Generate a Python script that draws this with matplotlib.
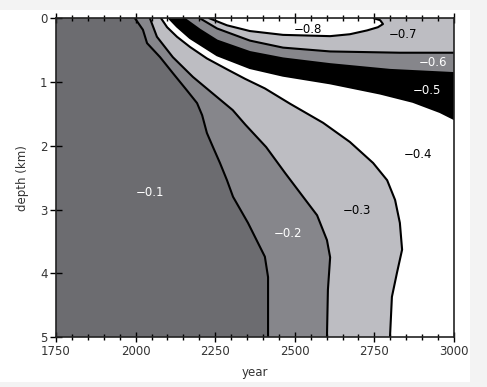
import numpy as np
import matplotlib.pyplot as plt
from matplotlib.patches import Rectangle

# contour boundaries: (year, depth in km)
# -0.1 / -0.2
b1_year = [1998, 2023, 2036, 2077, 2117, 2161, 2193, 2209, 2224, 2243, 2265, 2287, 2306, 2353, 2406, 2416, 2416]
b1_depth = [0.0, 0.18, 0.39, 0.61, 0.86, 1.13, 1.33, 1.52, 1.80, 2.02, 2.27, 2.54, 2.80, 3.21, 3.74, 4.06, 5.0]
# -0.2 / -0.3
b2_year = [2045, 2067, 2117, 2180, 2240, 2305, 2345, 2410, 2470, 2526, 2570, 2601, 2611, 2604, 2601]
b2_depth = [0.0, 0.29, 0.61, 0.92, 1.17, 1.44, 1.67, 2.02, 2.43, 2.80, 3.09, 3.48, 3.75, 4.26, 5.0]
# -0.3 / -0.4
b3_year = [2080, 2099, 2130, 2171, 2224, 2287, 2344, 2406, 2485, 2589, 2673, 2746, 2790, 2815, 2830, 2837, 2821, 2805, 2799]
b3_depth = [0.0, 0.14, 0.29, 0.45, 0.63, 0.80, 0.95, 1.10, 1.34, 1.64, 1.94, 2.27, 2.54, 2.85, 3.21, 3.63, 3.99, 4.37, 5.0]
# -0.4 / -0.5
b4_year = [2105, 2130, 2171, 2256, 2359, 2463, 2611, 2768, 2871, 2956, 3000]
b4_depth = [0.0, 0.13, 0.31, 0.58, 0.78, 0.90, 1.02, 1.18, 1.31, 1.47, 1.58]
# -0.5 / -0.6
b5_year = [2152, 2202, 2256, 2359, 2463, 2611, 2799, 3000]
b5_depth = [0.0, 0.18, 0.35, 0.53, 0.63, 0.72, 0.81, 0.86]
# -0.6 / -0.7
b6_year = [2202, 2256, 2359, 2463, 2611, 2830, 3000]
b6_depth = [0.0, 0.16, 0.35, 0.46, 0.52, 0.54, 0.54]
# -0.7 / -0.8 (closed against the surface)
b7_year = [2232, 2287, 2359, 2463, 2611, 2673, 2727, 2761, 2777, 2768, 2749]
b7_depth = [0.0, 0.11, 0.20, 0.26, 0.28, 0.25, 0.19, 0.14, 0.09, 0.03, 0.0]

labels = ['\u22120.1', '\u22120.2', '\u22120.3', '\u22120.4', '\u22120.5', '\u22120.6', '\u22120.7', '\u22120.8']
label_year = [2045, 2479, 2695, 2887, 2915, 2934, 2840, 2541]
label_depth = [2.73, 3.37, 3.01, 2.14, 1.13, 0.70, 0.26, 0.17]
label_color = ['white', 'white', 'black', 'black', 'white', 'white', 'black', 'black']

dark = '#6c6c70'
mid = '#86868b'
light = '#bdbdc2'

plt.rcParams['font.family'] = 'DejaVu Sans'
fig = plt.figure(figsize=(4.87, 3.87), dpi=100, facecolor='#f3f3f3')
fig.patches.append(Rectangle((0, 5 / 387), 470 / 487, 372 / 387, transform=fig.transFigure,
                             facecolor='white', edgecolor='none', zorder=-5))
ax = fig.add_axes([56 / 487, 1 - 337 / 387, 398 / 487, 318.7 / 387])
ax.set_facecolor(dark)
x0, x1 = 1750, 3000
y0, y1 = 0, 5

# layered fills, each covering everything to the "more negative" side
ax.fill(b1_year + [x1, x1], b1_depth + [y1, y0], color=mid, lw=0)
ax.fill(b2_year + [x1, x1], b2_depth + [y1, y0], color=light, lw=0)
ax.fill(b3_year + [x1, x1], b3_depth + [y1, y0], color='white', lw=0)
ax.fill(b4_year + [x1], b4_depth + [y0], color='black', lw=0)
ax.fill(b5_year + [x1], b5_depth + [y0], color=mid, lw=0)
ax.fill(b6_year + [x1], b6_depth + [y0], color=light, lw=0)
ax.fill(b7_year, b7_depth, color='white', lw=0)

for xs, ys in [(b1_year, b1_depth), (b2_year, b2_depth), (b3_year, b3_depth),
               (b4_year, b4_depth), (b5_year, b5_depth), (b6_year, b6_depth),
               (b7_year, b7_depth)]:
    ax.plot(xs, ys, color='black', lw=1.5, solid_joinstyle='round')

for t, xx, yy, c in zip(labels, label_year, label_depth, label_color):
    ax.text(xx, yy, t, color=c, fontsize=8.5, ha='center', va='center')

ax.set_xlim(x0, x1)
ax.set_ylim(y1, y0)
ax.set_xticks(np.arange(1750, 3001, 250))
ax.set_xticks(np.arange(1750, 3001, 50), minor=True)
ax.set_yticks(np.arange(0, 6, 1))
ax.tick_params(axis='x', which='major', direction='inout', length=7, width=1, top=True,
               labelsize=8.5, labelcolor='#333333', pad=2)
ax.tick_params(axis='x', which='minor', direction='inout', length=4, width=1, top=True)
ax.tick_params(axis='y', which='major', direction='inout', length=8, width=1, right=False,
               labelsize=8.5, labelcolor='#333333', pad=2)
for s in ax.spines.values():
    s.set_linewidth(1.2)
    s.set_color('#222222')
ax.set_xlabel('year', fontsize=8.5, color='#333333', labelpad=6)
ax.set_ylabel('depth (km)', fontsize=8.5, color='#333333', labelpad=8)

fig.savefig('out.png', dpi=100, facecolor=fig.get_facecolor())
